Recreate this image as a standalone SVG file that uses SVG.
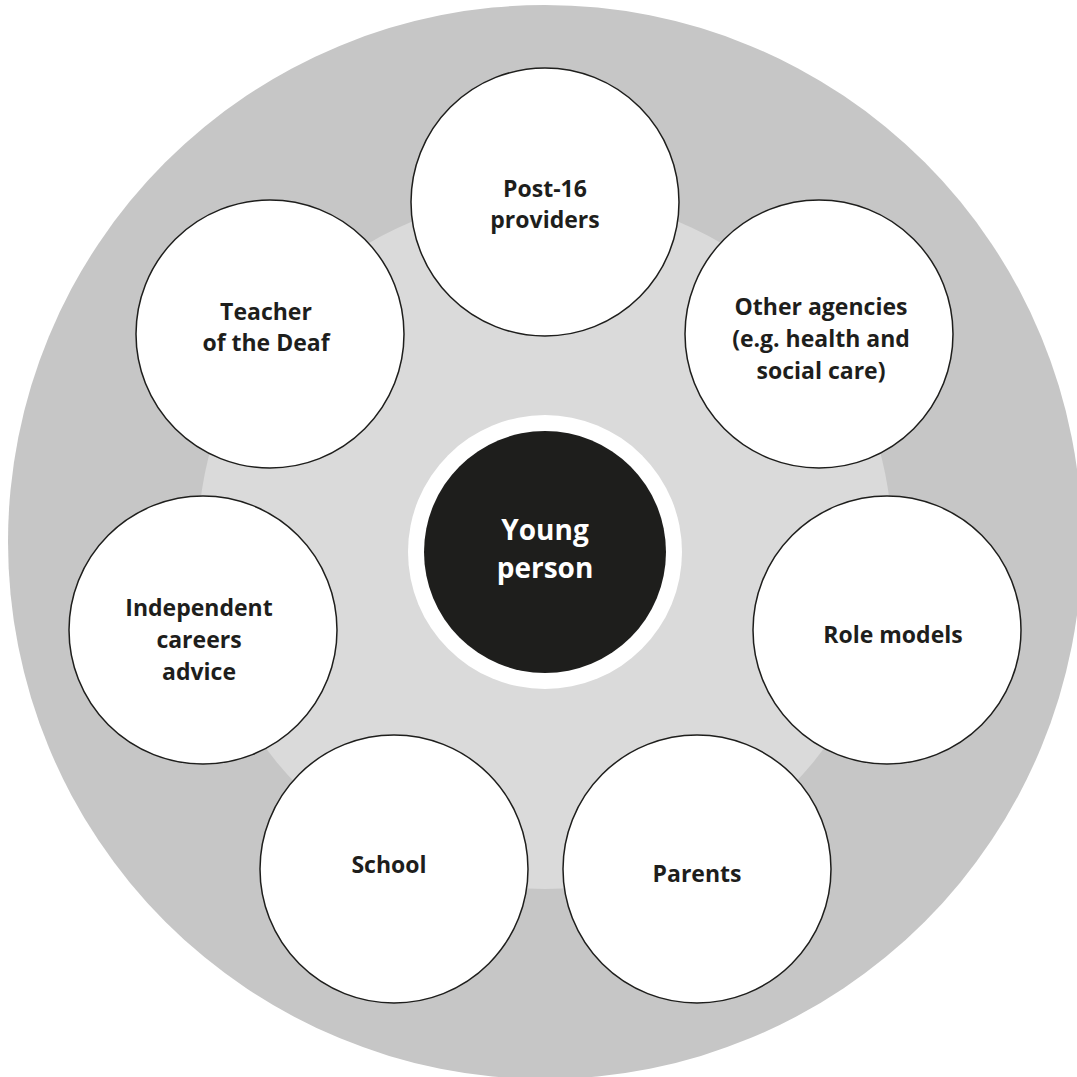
<svg xmlns="http://www.w3.org/2000/svg" width="1077" height="1077" viewBox="0 0 1077 1077">
<style>
.node circle{fill:#ffffff;stroke:#1e1e1c;stroke-width:1.5}
.lbl{font-family:"Open Sans","Noto Sans","DejaVu Sans",sans-serif;font-weight:700;font-size:23px;fill:#1e1e1c;text-anchor:middle}
.ctr{font-family:"Open Sans","Noto Sans","DejaVu Sans",sans-serif;font-weight:700;font-size:28px;fill:#ffffff;text-anchor:middle}
</style>
<rect width="1077" height="1077" fill="#ffffff"/>
<g id="background">
<circle cx="545" cy="542" r="537" fill="#c6c6c6"/>
<circle cx="545" cy="542" r="347" fill="#dadada"/>
</g>
<g id="connectors"></g>
<g id="young-person">
<circle cx="545" cy="552" r="137" fill="#ffffff"/>
<circle cx="545" cy="552" r="121" fill="#1e1e1c"/>
<text class="ctr" x="545" y="540">Young</text>
<text class="ctr" x="545" y="578">person</text>
</g>
<g id="post16" class="node">
<circle cx="545" cy="202" r="134"/>
<text class="lbl" x="545" y="197">Post-16</text>
<text class="lbl" x="545" y="228">providers</text>
</g>
<g id="other-agencies" class="node">
<circle cx="819" cy="334" r="134"/>
<text class="lbl" x="821" y="315">Other agencies</text>
<text class="lbl" x="821" y="347">(e.g. health and</text>
<text class="lbl" x="821" y="379">social care)</text>
</g>
<g id="role-models" class="node">
<circle cx="887" cy="630" r="134"/>
<text class="lbl" x="893" y="643">Role models</text>
</g>
<g id="parents" class="node">
<circle cx="697" cy="869" r="134"/>
<text class="lbl" x="697" y="882">Parents</text>
</g>
<g id="school" class="node">
<circle cx="394" cy="869" r="134"/>
<text class="lbl" x="389" y="873">School</text>
</g>
<g id="careers-advice" class="node">
<circle cx="203" cy="630" r="134"/>
<text class="lbl" x="199" y="616">Independent</text>
<text class="lbl" x="199" y="648">careers</text>
<text class="lbl" x="199" y="680">advice</text>
</g>
<g id="teacher-of-the-deaf" class="node">
<circle cx="270" cy="334" r="134"/>
<text class="lbl" x="266" y="320">Teacher</text>
<text class="lbl" x="266" y="351">of the Deaf</text>
</g>
</svg>
